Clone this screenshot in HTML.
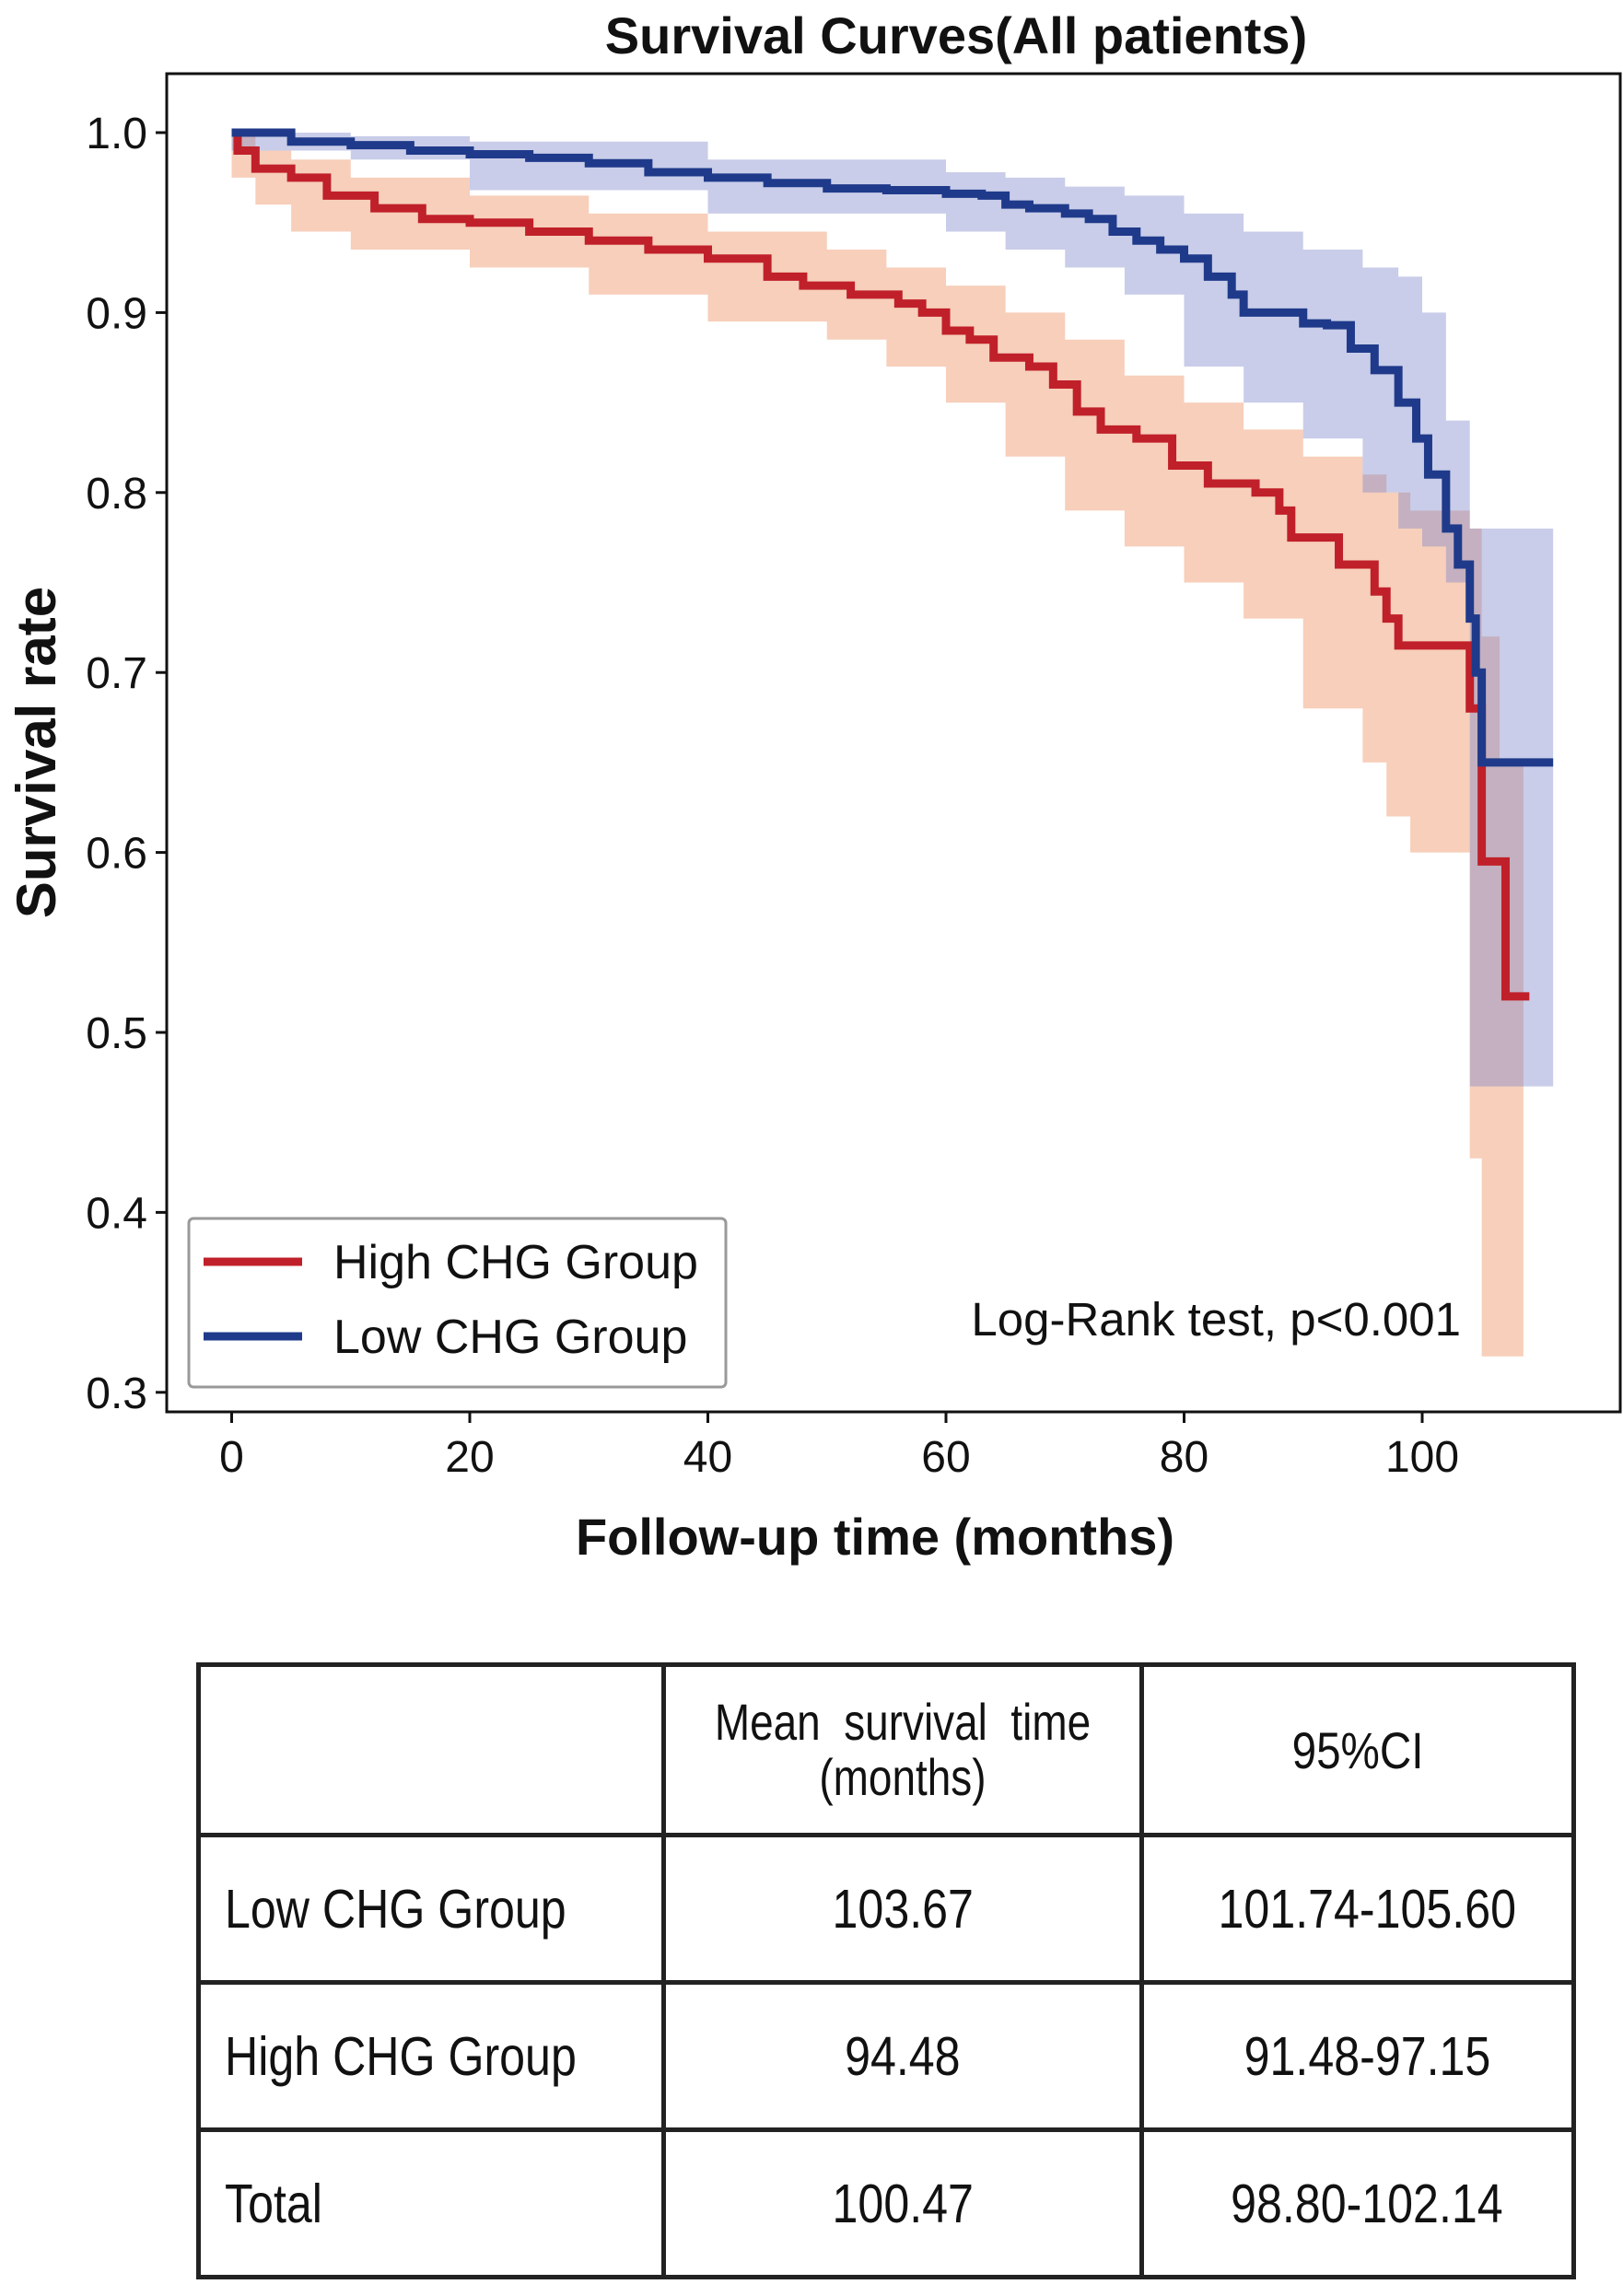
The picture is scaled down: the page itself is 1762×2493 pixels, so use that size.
<!DOCTYPE html>
<html><head><meta charset="utf-8"><style>
body{margin:0;background:#fff;width:1762px;height:2493px;overflow:hidden;font-family:"Liberation Sans",sans-serif}
svg{position:absolute;left:0;top:0}
.tb{position:absolute;left:213px;top:1805px;border-collapse:collapse;table-layout:fixed}
.tb td{border:5px solid #222;font-size:59px;color:#111;padding:0;text-align:center;white-space:nowrap;overflow:visible}
.tb td span{display:inline-block;transform:scaleX(0.85)}
</style></head><body>
<svg id="chart" width="1762" height="1800" font-family="Liberation Sans, sans-serif"></svg>
<table class="tb">
<tr style="height:185px"><td style="width:500px"></td><td style="width:514px;font-size:56px;line-height:60px"><span style="transform:scaleX(0.82)">Mean&nbsp; survival&nbsp; time<br>(months)</span></td><td style="width:464px;font-size:56px"><span>95%CI</span></td></tr>
<tr style="height:160px"><td style="text-align:left;padding-left:26px"><span style="transform-origin:left">Low CHG Group</span></td><td><span>103.67</span></td><td style="padding-left:20px"><span>101.74-105.60</span></td></tr>
<tr style="height:160px"><td style="text-align:left;padding-left:26px"><span style="transform-origin:left">High CHG Group</span></td><td><span>94.48</span></td><td style="padding-left:20px"><span>91.48-97.15</span></td></tr>
<tr style="height:160px"><td style="text-align:left;padding-left:26px"><span style="transform-origin:left">Total</span></td><td><span>100.47</span></td><td style="padding-left:20px"><span>98.80-102.14</span></td></tr>
</table>
<script>
const xTicks=[0,20,40,60,80,100];
const yTicks=[0.3,0.4,0.5,0.6,0.7,0.8,0.9,1.0];
const lowT=[0,5,10,15,20,25,30,35,40,45,50,55,60,63,65,67,70,72,74,76,78,80,82,84,85,88,90,92,94,96,98,99.5,100.5,102,103,104,104.5,105,111];
const lowS=[1.0,0.995,0.993,0.99,0.988,0.986,0.983,0.978,0.975,0.972,0.969,0.968,0.966,0.965,0.96,0.958,0.955,0.952,0.945,0.94,0.935,0.93,0.92,0.91,0.9,0.9,0.894,0.893,0.88,0.868,0.85,0.83,0.81,0.78,0.76,0.73,0.70,0.65,0.65];
const lowCIT=[0,10,20,40,60,65,70,75,80,85,90,95,98,100,102,104,104.5,106,111];
const lowLo=[1.0,0.99,0.985,0.968,0.955,0.945,0.935,0.925,0.91,0.87,0.85,0.83,0.80,0.78,0.77,0.75,0.47,0.47,0.47];
const lowHi=[1.0,0.998,0.995,0.985,0.978,0.975,0.97,0.965,0.955,0.945,0.935,0.925,0.92,0.90,0.84,0.78,0.78,0.78,0.78];
const highT=[0,0.5,2,5,8,12,16,20,25,30,35,40,45,48,52,56,58,60,62,64,67,69,71,73,76,79,82,86,88,89,93,96,97,98,104,105,107,109];
const highS=[1.0,0.99,0.98,0.975,0.965,0.958,0.952,0.95,0.945,0.94,0.935,0.93,0.92,0.915,0.91,0.905,0.9,0.89,0.885,0.875,0.87,0.86,0.845,0.835,0.83,0.815,0.805,0.8,0.79,0.775,0.76,0.745,0.73,0.715,0.68,0.595,0.52,0.52];
const highCIT=[0,2,5,10,20,30,40,50,55,60,65,70,75,80,85,90,95,97,99,104,105,106.5,108.5];
const highLo=[0.99,0.975,0.96,0.945,0.935,0.925,0.91,0.895,0.885,0.87,0.85,0.82,0.79,0.77,0.75,0.73,0.68,0.65,0.62,0.6,0.43,0.32,0.32];
const highHi=[1.0,0.99,0.985,0.975,0.965,0.955,0.945,0.935,0.925,0.915,0.9,0.885,0.865,0.85,0.835,0.82,0.81,0.8,0.79,0.78,0.72,0.65,0.6];

const svg=document.getElementById('chart');const NS='http://www.w3.org/2000/svg';
const X=t=>251.5+t*12.925, Y=v=>144+(1-v)*1954;
function mk(tag,a,p){const e=document.createElementNS(NS,tag);for(const k in a)e.setAttribute(k,a[k]);(p||svg).appendChild(e);return e;}
function stepPts(T,S){let d='M'+X(T[0])+','+Y(S[0]);for(let i=1;i<T.length;i++){d+=' H'+X(T[i])+' V'+Y(S[i]);}return d;}
function band(T,L,H,col,name){let d='M'+X(T[0])+','+Y(H[0]);for(let i=1;i<T.length;i++)d+=' H'+X(T[i])+' V'+Y(H[i]);for(let i=T.length-1;i>0;i--)d+=' V'+Y(L[i])+' H'+X(T[i-1]);d+=' V'+Y(L[0])+'Z';
const e=mk('path',{d:d,fill:col});

}
band(highCIT,highLo,highHi,'rgba(240,160,120,0.5)','high-ci-band');
band(lowCIT,lowLo,lowHi,'rgba(120,130,200,0.4)','low-ci-band');
const hl=mk('path',{d:stepPts(highT,highS),fill:'none',stroke:'#c0202a','stroke-width':9});


const ll=mk('path',{d:stepPts(lowT,lowS),fill:'none',stroke:'#1f3a8a','stroke-width':9});


const fr=mk('rect',{x:181,y:80,width:1578,height:1453,fill:'none',stroke:'#111','stroke-width':3});


xTicks.forEach(t=>{mk('line',{x1:X(t),x2:X(t),y1:1533,y2:1545,stroke:'#111','stroke-width':3});
const tx=mk('text',{x:X(t),y:1598,'font-size':48,'text-anchor':'middle',fill:'#111'});tx.textContent=t;

});
yTicks.forEach(v=>{mk('line',{x1:169,x2:181,y1:Y(v),y2:Y(v),stroke:'#111','stroke-width':3});
const tx=mk('text',{x:160,y:Y(v)+17,'font-size':48,'text-anchor':'end',fill:'#111'});tx.textContent=v.toFixed(1);

});
function txt(s,a,name){const e=mk('text',a);e.textContent=s;

return e;}
txt('Survival Curves(All patients)',{x:1038,y:58,'font-size':56,'font-weight':'bold','text-anchor':'middle',fill:'#111'},'chart-title');
txt('Follow-up time (months)',{x:950,y:1688,'font-size':56,'font-weight':'bold','text-anchor':'middle',fill:'#111'},'x-axis-title');
txt('Survival rate',{x:0,y:0,'font-size':60,'font-weight':'bold','text-anchor':'middle',fill:'#111',transform:'translate(60,817) rotate(-90)'},'y-axis-title');
txt('Log-Rank test, p<0.001',{x:1586,y:1450,'font-size':51,'text-anchor':'end',fill:'#111'},'log-rank-annotation');
const lg=mk('rect',{x:205,y:1323,width:583,height:183,rx:5,fill:'#fff',stroke:'#999','stroke-width':3});


mk('line',{x1:221,x2:328,y1:1370,y2:1370,stroke:'#c0202a','stroke-width':9});
mk('line',{x1:221,x2:328,y1:1451,y2:1451,stroke:'#1f3a8a','stroke-width':9});
txt('High CHG Group',{x:362,y:1388,'font-size':52,fill:'#111'},'legend-entry-high');
txt('Low CHG Group',{x:362,y:1469,'font-size':52,fill:'#111'},'legend-entry-low');
</script>
</body></html>
